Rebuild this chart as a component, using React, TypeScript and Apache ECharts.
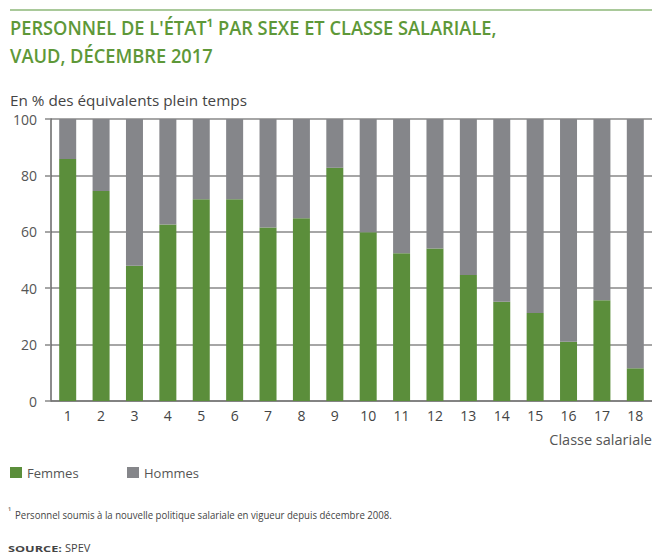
import React, { useEffect, useRef } from "react";
import * as echarts from "echarts";

const categories = ["1", "2", "3", "4", "5", "6", "7", "8", "9", "10", "11", "12", "13", "14", "15", "16", "17", "18"];
const femmes = [85.8, 74.5, 48, 62.6, 71.5, 71.5, 61.5, 64.8, 82.7, 59.8, 52.4, 54.1, 44.7, 35.2, 31.2, 21, 35.7, 11.6];
const hommes = [14.2, 25.5, 52, 37.4, 28.5, 28.5, 38.5, 35.2, 17.3, 40.2, 47.6, 45.9, 55.3, 64.8, 68.8, 79, 64.3, 88.4];
const yTicks = { min: 0, max: 100, interval: 20 };

const titleLines = ["PERSONNEL DE L'ÉTAT¹ PAR SEXE ET CLASSE SALARIALE,", "VAUD, DÉCEMBRE 2017"];
const yAxisTitle = "En % des équivalents plein temps";
const xAxisTitle = "Classe salariale";
const footnote = "Personnel soumis à la nouvelle politique salariale en vigueur depuis décembre 2008.";
const sourceLabel = "SOURCE:";
const sourceText = "SPEV";

const GREEN = "#5b8e3b";
const GREY = "#85868a";
const TITLE_GREEN = "#5e9838";
const FONT = '"Open Sans", "Noto Sans", sans-serif';

function measure(text: string, font: string): number {
  const c = document.createElement("canvas").getContext("2d");
  if (!c) return text.length * 10;
  c.font = font;
  return c.measureText(text).width;
}

export default function App() {
  const ref = useRef<HTMLDivElement>(null);
  useEffect(() => {
    if (!ref.current) return;
    const chart = echarts.init(ref.current, null, { renderer: "svg" });
    const titleFont = `600 19px ${FONT}`;
    const sx = 487 / measure(titleLines[0], titleFont);
    const footFont = `10px ${FONT}`;
    const fsx = Math.min(1.2, 377 / measure(footnote, footFont));
    const yFont = `14px ${FONT}`;
    const ysx = 237 / measure(yAxisTitle, yFont);
    const srcFont = `bold 9px ${FONT}`;
    const ssx = 54 / measure(sourceLabel, srcFont);
    const legFont = `13px ${FONT}`;
    const femW = measure("Femmes", legFont);
    const legGap = Math.max(10, 127 - (10 + 12 + 5 + femW));

    chart.setOption({
      animation: false,
      backgroundColor: "#ffffff",
      textStyle: { fontFamily: FONT },
      grid: { left: 51, right: 0, top: 119, bottom: 158, containLabel: false },
      legend: {
        left: 10,
        top: 466,
        padding: 0,
        itemWidth: 12,
        itemHeight: 11,
        itemGap: legGap,
        icon: "rect",
        textStyle: { fontSize: 13, color: "#555", fontFamily: FONT },
        data: ["Femmes", "Hommes"],
      },
      xAxis: {
        type: "category",
        data: categories,
        axisLine: { show: true, lineStyle: { color: "#777", width: 1.5 } },
        axisTick: { show: false },
        axisLabel: { fontSize: 14, color: "#444", margin: 7, fontFamily: FONT },
      },
      yAxis: {
        type: "value",
        min: yTicks.min,
        max: yTicks.max,
        interval: yTicks.interval,
        axisLine: { show: true, lineStyle: { color: "#666", width: 1.5 } },
        axisTick: { show: true, length: 6, lineStyle: { color: "#888", width: 1.5 } },
        axisLabel: { fontSize: 14, color: "#555", margin: 14, fontFamily: FONT },
        splitLine: { show: true, lineStyle: { color: "#888", width: 1.6 } },
      },
      series: [
        {
          name: "Femmes",
          type: "bar",
          stack: "total",
          data: femmes,
          barWidth: 17,
          itemStyle: { color: GREEN },
        },
        {
          name: "Hommes",
          type: "bar",
          stack: "total",
          data: hommes,
          barWidth: 17,
          itemStyle: { color: GREY },
        },
      ],
      graphic: [
        { type: "rect", shape: { x: 10, y: 9, width: 642, height: 2 }, style: { fill: "#a9c99a" } },
        {
          type: "text",
          x: 10,
          y: 27,
          scaleX: sx,
          style: { text: titleLines[0], font: titleFont, fill: TITLE_GREEN, textVerticalAlign: "middle" },
        },
        {
          type: "text",
          x: 10,
          y: 55,
          scaleX: sx,
          style: { text: titleLines[1], font: titleFont, fill: TITLE_GREEN, textVerticalAlign: "middle" },
        },
        {
          type: "text",
          x: 10,
          y: 100,
          scaleX: ysx,
          style: { text: yAxisTitle, font: yFont, fill: "#444", textVerticalAlign: "middle" },
        },
        {
          type: "text",
          x: 652,
          y: 439,
          style: { text: xAxisTitle, font: `14.5px ${FONT}`, fill: "#555", textAlign: "right", textVerticalAlign: "middle" },
        },
        {
          type: "text",
          x: 8,
          y: 511,
          style: { text: "¹", font: `9px ${FONT}`, fill: "#444", textVerticalAlign: "middle" },
        },
        {
          type: "text",
          x: 15,
          y: 515,
          scaleX: fsx,
          style: { text: footnote, font: footFont, fill: "#444", textVerticalAlign: "middle" },
        },
        {
          type: "text",
          x: 8,
          y: 548,
          scaleX: ssx,
          style: { text: sourceLabel, font: srcFont, fill: "#444", textVerticalAlign: "middle" },
        },
        {
          type: "text",
          x: 65,
          y: 547,
          style: { text: sourceText, font: `11px ${FONT}`, fill: "#444", textVerticalAlign: "middle" },
        },
      ],
    });
    return () => chart.dispose();
  }, []);
  return <div ref={ref} style={{ position: "fixed", left: 0, top: 0, width: 652, height: 559 }} />;
}
